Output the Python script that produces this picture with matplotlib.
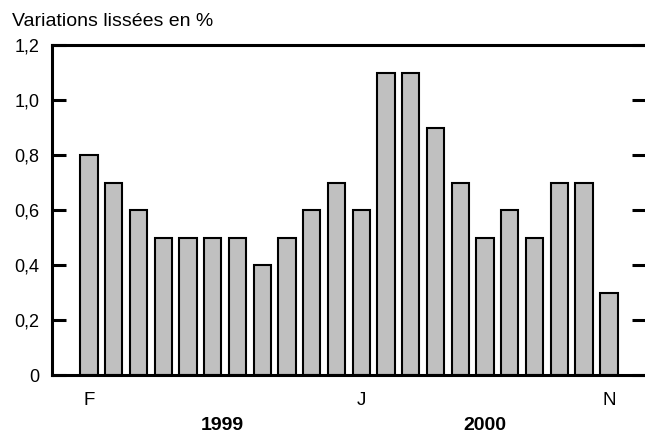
import matplotlib.pyplot as plt

plt.rcParams['font.family'] = ['Liberation Sans', 'DejaVu Sans']

# Feb 1999 .. Nov 2000
values = [0.8, 0.7, 0.6, 0.5, 0.5, 0.5, 0.5, 0.4, 0.5, 0.6, 0.7,
          0.6, 1.1, 1.1, 0.9, 0.7, 0.5, 0.6, 0.5, 0.7, 0.7, 0.3]
month_pos = [0, 11, 21]
month_labels = ["F", "J", "N"]
years = ["1999", "2000"]
year_pos = [5.4, 16.0]
yticks = [0, 0.2, 0.4, 0.6, 0.8, 1.0, 1.2]
ytick_labels = ["0", "0,2", "0,4", "0,6", "0,8", "1,0", "1,2"]

fig = plt.figure(figsize=(6.45, 4.46), dpi=100)
ax = fig.add_axes([52/645, 71/446, 594/645, 330/446])

x = range(len(values))
ax.bar(x, values, width=0.7, color="#c0c0c0", edgecolor="black", linewidth=1.5)

ax.set_xlim(-1.49, 22.5)
ax.set_ylim(0, 1.2)
ax.set_yticks(yticks)
ax.set_yticklabels(ytick_labels, fontsize=13)
ax.set_xticks(month_pos)
ax.set_xticklabels(month_labels, fontsize=13.5)
ax.tick_params(axis='x', length=0, pad=12)
ax.tick_params(axis='y', direction='in', length=10, width=2.2, pad=9,
               right=True)

ax.spines['right'].set_visible(False)
for s in ['left', 'bottom', 'top']:
    ax.spines[s].set_linewidth(2.2)

for yr, p in zip(years, year_pos):
    ax.text(p, -0.127, yr, ha='center', va='top', fontsize=14,
            fontweight='bold', transform=ax.get_xaxis_transform())

fig.text(12/645, 1 - 21/446, "Variations lissées en %", fontsize=14,
         ha='left', va='center')

fig.savefig("out.png", dpi=100)
